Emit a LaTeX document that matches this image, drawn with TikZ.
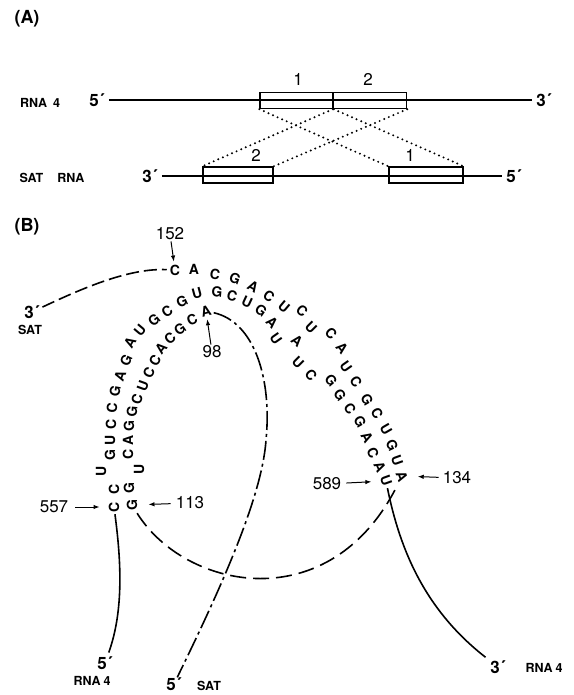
\documentclass[tikz,border=0pt]{standalone}
\usepackage{fontspec}
\setmainfont{TeX Gyre Heros}
\usetikzlibrary{arrows.meta}

\begin{document}
\begin{tikzpicture}[
    x=1pt, y=-1pt,
    panel/.style={font=\fontsize{18}{18}\selectfont\bfseries, inner sep=0pt},
    tag/.style={font=\fontsize{12.5}{12.5}\selectfont\bfseries, inner sep=0pt},
    prime/.style={font=\fontsize{17}{17}\selectfont\bfseries, inner sep=0pt},
    num/.style={font=\fontsize{17}{17}\selectfont, inner sep=1pt},
    base/.style={font=\fontsize{14}{14}\selectfont\bfseries, inner sep=0pt},
    strand/.style={line width=1.6pt},
    seg/.style={draw, line width=1.4pt, minimum width=73pt, minimum height=16pt,
                inner sep=0pt},
    pairing/.style={line width=2.2pt, line cap=round, dash pattern=on 0pt off 5pt},
    satdash/.style={line width=1.6pt, dash pattern=on 13pt off 5pt},
    loopdash/.style={line width=1.6pt, dash pattern=on 16pt off 7pt},
    satdashdot/.style={line width=1.6pt, dash pattern=on 19pt off 4pt on 3pt off 4pt},
    ptr/.style={-{Latex[length=6pt,width=4.5pt]}, line width=1pt}
]
\useasboundingbox (0,0) rectangle (573,695);

% --- (A): linear maps, RNA 4 on top, satellite RNA below.
\node[panel] (labA) at (27,19) {(A)};

\node[tag]   (rna4)  at (40,103)  {RNA\hspace{6pt}4};
\node[prime] (rna4l) at (97,100)  {5´};
\node[prime] (rna4r) at (544,100) {3´};
\draw[strand, shorten <=4pt, shorten >=4pt] (rna4l) -- (rna4r);
\node[seg] (top1) at (296.5,100.5) {};
\node[seg] (top2) at (370,100.5)   {};
\node[num] (top1n) at (298,79) {1};
\node[num] (top2n) at (368,79) {2};

\node[tag]   (satrna) at (52,178)  {SAT\hspace{14pt}RNA};
\node[prime] (satl)   at (150,176) {3´};
\node[prime] (satr)   at (514,176) {5´};
\draw[strand, shorten <=4pt, shorten >=4pt] (satl) -- (satr);
\node[seg, minimum width=70pt] (bot2) at (238,175) {};
\node[seg, minimum width=74pt] (bot1) at (426,175) {};
\node[num] (bot2n) at (256,155) {2};
\node[num] (bot1n) at (410,155) {1};

% --- complementary stretches (dotted)
\draw[pairing] (top1.south west) -- (bot1.north west);
\draw[pairing] (top1.south east) -- (bot1.north east);
\draw[pairing] (top2.south west) -- (bot2.north west);
\draw[pairing] (top2.south east) -- (bot2.north east);

% --- (B): the two stems.
\node[panel] (labB) at (27,227) {(B)};

% SAT RNA, outer arc: 152 (top) down to 134 (right arm)
\foreach \px/\py/\ang/\b [count=\i] in {
    175/270/0/C, 194/269/0/A, 215/274/-10/C, 235/279/-20/G, 253/287/-30/A,
    269/296/-35/C, 284/307/-40/U, 302/311/-40/C, 311/328/-45/U, 331/333/-45/C,
    342/348/-50/A, 346/367/-55/U, 356/382/-55/C, 367/400/-60/G, 377/413/-60/C,
    386/429/-60/U, 392/445/-65/G, 397/461/-70/U, 402/476/-70/A}
  \node[base, rotate=\ang] (s\i) at (\px,\py) {\b};

% RNA 4: 557 (left arm, bottom) over the top to 589 (right arm)
\foreach \px/\py/\ang/\b [count=\i] in {
    114/507/90/C, 114/489/90/C, 101/471/90/U, 110/455/90/G, 110/440/90/U,
    111/424/90/C, 112/408/85/C, 115/391/80/G, 120/376/70/A, 126/360/65/G,
    130/343/60/A, 140/330/50/U, 154/320/40/G, 167/311/35/C, 182/302/25/G,
    197/293/15/U, 217/292/-5/G, 232/296/-15/C, 247/302/-25/U, 261/310/-35/G,
    272/322/-45/A, 276/339/-55/U, 297/341/-40/A, 298/363/-45/U, 311/375/-50/C,
    331/380/-50/G, 340/395/-55/G, 350/409/-55/C, 360/422/-60/G, 367/437/-60/A,
    373/453/-65/C, 380/467/-65/A, 386/481/-70/U}
  \node[base, rotate=\ang] (r\i) at (\px,\py) {\b};

% SAT RNA, inner arc: 98 (top) down to 113 (left arm)
\foreach \px/\py/\ang/\b [count=\i] in {
    206/311/15/A, 192/320/25/C, 180/329/35/G, 170/338/40/C, 161/348/50/A,
    155/361/60/C, 149/373/65/C, 143/386/70/U, 137/399/75/C, 132/412/85/G,
    129/426/90/G, 128/440/90/A, 128/454/90/C, 139/469/90/U, 129/488/90/G,
    132/505/90/G}
  \node[base, rotate=\ang] (t\i) at (\px,\py) {\b};

% --- position numbers
\node[num] (n152) at (170,234) {152};
\node[num] (n98)  at (212,352) {98};
\node[num] (n557) at (54,507)  {557};
\node[num] (n113) at (190,503) {113};
\node[num] (n589) at (327,484) {589};
\node[num] (n134) at (457,478) {134};

\draw[ptr, shorten >=3pt] (n152) -- (s1);
\draw[ptr, shorten >=3pt] (n98)  -- (t1);
\draw[ptr, shorten <=6pt, shorten >=9pt]  (n557) -- (r1);
\draw[ptr, shorten <=4pt, shorten >=11pt] (n113) -- (t16);
\draw[ptr, shorten <=4pt, shorten >=9pt]  (n589) -- (r33);
\draw[ptr, shorten <=3pt, shorten >=10pt] (n134) -- (s19);

% --- free ends
\node[prime] (sat3)  at (32,312)  {3´};
\node[tag]   (sat3l) at (30,330)  {SAT};
\node[prime] (sat5)  at (174,684) {5´};
\node[tag]   (sat5l) at (209,686) {SAT};
\node[prime] (r4five)  at (105,663) {5´};
\node[tag]   (r4fivel) at (92,681)  {RNA\hspace{3pt}4};
\node[prime] (r4three)  at (498,667) {3´};
\node[tag]   (r4threel) at (544,668) {RNA\hspace{3pt}4};

\draw[satdash, shorten <=3pt, shorten >=3pt]
    (sat3) .. controls (85,287) and (130,268) .. (s1);
\draw[satdashdot, shorten <=2pt]
    (t1) .. controls (255,322) and (272,380) .. (266,440)
         .. controls (262,500) and (215,600) .. (sat5);
\draw[strand, shorten <=2pt, shorten >=4pt]
    (r1) .. controls (121,560) and (124,610) .. (r4five);
\draw[strand, shorten <=2pt, shorten >=6pt]
    (r33) .. controls (400,550) and (425,610) .. (r4three);
\draw[loopdash, shorten <=3pt, shorten >=3pt]
    (t16) .. controls (185,590) and (330,620) .. (s19);

\end{tikzpicture}
\end{document}
